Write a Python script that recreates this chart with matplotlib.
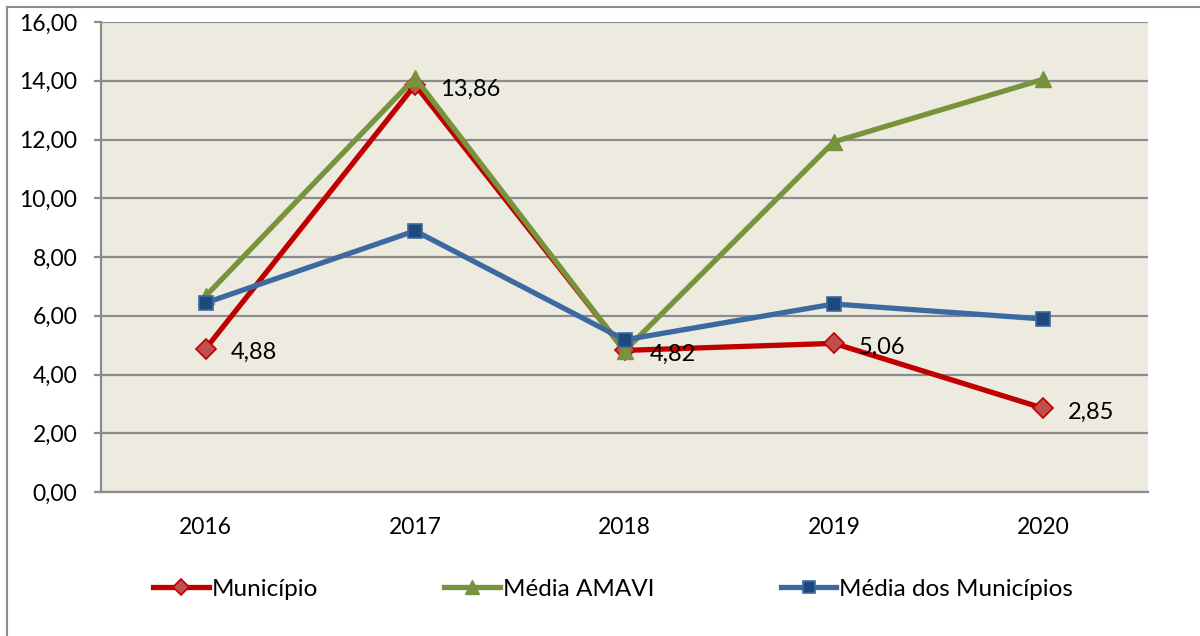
import matplotlib
matplotlib.use('Agg')
import matplotlib.pyplot as plt
from matplotlib.lines import Line2D
from matplotlib.ticker import FuncFormatter

plt.rcParams['font.family'] = ['Lato', 'DejaVu Sans']

anos = ['2016', '2017', '2018', '2019', '2020']
municipio = [4.88, 13.86, 4.82, 5.06, 2.85]
media_amavi = [6.67, 14.10, 4.80, 11.92, 14.05]
media_municipios = [6.44, 8.89, 5.18, 6.40, 5.89]
rotulos = ['4,88', '13,86', '4,82', '5,06', '2,85']

fig = plt.figure(figsize=(12, 6.36), dpi=100)
ax = fig.add_axes([101/1200, 1-492/636, (1148-101)/1200, (492-22)/636])
ax.set_facecolor('#EDEAE0')

x = range(len(anos))
ax.plot(x, municipio, color='#C00000', lw=3.8, marker='D', ms=10,
        mfc='#C0504D', mec='#C00000', mew=1.2, label='Município', zorder=3)
ax.plot(x, media_amavi, color='#77933C', lw=3.8, marker='^', ms=12,
        mfc='#77933C', mec='#77933C', label='Média AMAVI', zorder=4)
ax.plot(x, media_municipios, color='#3C6AA0', lw=3.8, marker='s', ms=10,
        mfc='#1F497D', mec='#3C6AA0', mew=1.2, label='Média dos Municípios', zorder=5)

for i, t in enumerate(rotulos):
    ax.annotate(t, (i, municipio[i]), xytext=(18, -3), textcoords='offset points',
                ha='left', va='center', fontsize=17, color='black', zorder=6)

ax.set_xlim(-0.5, 4.5)
ax.set_ylim(0, 16)
ax.set_yticks(range(0, 17, 2))
ax.yaxis.set_major_formatter(FuncFormatter(lambda v, p: ('%.2f' % v).replace('.', ',')))
ax.set_xticks(list(x))
ax.set_xticklabels(anos)
ax.grid(axis='y', color='#8C8C8C', lw=1.6, zorder=1)
ax.set_axisbelow(True)
for s in ['top', 'right']:
    ax.spines[s].set_visible(False)
for s in ['left', 'bottom']:
    ax.spines[s].set_color('#8C8C8C')
    ax.spines[s].set_linewidth(1.6)
ax.tick_params(axis='y', length=5, width=1.6, color='#8C8C8C', pad=12, labelsize=16.5)
ax.tick_params(axis='x', length=0, pad=18, labelsize=16.5)

leg = fig.legend(loc='center', bbox_to_anchor=(613/1200, 1-589/636), ncol=3,
                 frameon=False, fontsize=17.5, handlelength=2.3, handletextpad=0.1,
                 columnspacing=5.2, markerscale=0.85)

# outer chart frame
fig.add_artist(Line2D([7/1200, 7/1200], [0, 1-7/636], color='#8C8C8C', lw=1.5))
fig.add_artist(Line2D([7/1200, 1], [1-7/636, 1-7/636], color='#8C8C8C', lw=1.5))

fig.savefig('out.png', dpi=100)
